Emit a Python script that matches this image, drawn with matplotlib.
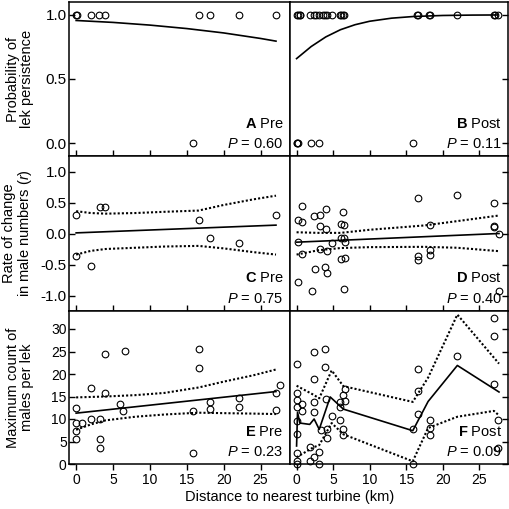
import matplotlib
matplotlib.use("Agg")
import matplotlib.pyplot as plt

plt.rcParams['font.family'] = ['Liberation Sans', 'DejaVu Sans']
plt.rcParams['axes.unicode_minus'] = False
plt.rcParams['mathtext.fontset'] = 'custom'
plt.rcParams['mathtext.rm'] = 'Liberation Sans'
plt.rcParams['mathtext.it'] = 'Liberation Sans:italic'
plt.rcParams['mathtext.bf'] = 'Liberation Sans:bold'

# ---- A: lek persistence, pre-construction
a_x = [0, 0.1, 2.0, 3.1, 3.9, 16.6, 18.2, 22.1, 27.1, 15.9]
a_y = [1, 1, 1, 1, 1, 1, 1, 1, 1, 0]
a_fit_x = [0, 5, 10, 15, 20, 25, 27.1]
a_fit_y = [0.956, 0.941, 0.920, 0.893, 0.859, 0.816, 0.795]

# ---- B: lek persistence, post-construction
b_x = [0, 0.13, 0.45, 0.5, 1.8, 2.4, 2.7, 3.1, 3.6, 3.9, 4.1, 4.8, 6.0, 6.1,
       6.4, 6.5, 16.5, 16.6, 18.1, 18.2, 22.0, 27.0, 27.1, 27.5,
       0, 0.05, 0.13, 1.95, 3.1, 15.9]
b_y = [1] * 24 + [0] * 6
b_fit_x = [0, 2, 4, 6, 8, 10, 13, 16, 20, 24, 27.5]
b_fit_y = [0.659, 0.753, 0.828, 0.884, 0.923, 0.950, 0.974, 0.987, 0.995, 0.998, 0.999]

# ---- C: rate of change, pre
c_x = [0, 3.2, 3.9, 16.6, 27.1, 18.2, 22.1, 0, 2.0]
c_y = [0.30, 0.42, 0.42, 0.22, 0.30, -0.07, -0.15, -0.37, -0.53]
c_fit_x = [0, 27.1]
c_fit_y = [0.01, 0.135]
c_ci_x = [0, 2, 4, 8, 12, 16.6, 20, 24, 27.1]
c_hi = [0.36, 0.33, 0.32, 0.33, 0.35, 0.37, 0.46, 0.55, 0.61]
c_lo = [-0.34, -0.28, -0.25, -0.23, -0.21, -0.20, -0.24, -0.30, -0.34]

# ---- D: rate of change, post
d_x = [0.7, 0.13, 0.7, 2.4, 3.2, 4.0, 3.2, 4.0, 6.4, 6.05, 6.45,
       0.13, 0.7, 3.2, 4.2, 4.9, 6.05, 6.6, 6.5, 6.05, 6.6,
       2.5, 3.95, 4.2, 0.2, 2.05, 6.45,
       16.6, 22.0, 27.05, 18.2, 27.05, 27.05, 27.7, 16.6, 16.6, 18.2, 18.2, 27.7]
d_y = [0.45, 0.21, 0.185, 0.28, 0.30, 0.39, 0.12, 0.08, 0.35, 0.146, 0.135,
       -0.135, -0.335, -0.25, -0.285, -0.15, -0.07, -0.135, -0.07, -0.405, -0.39,
       -0.58, -0.545, -0.63, -0.78, -0.92, -0.89,
       0.57, 0.62, 0.49, 0.136, 0.125, 0.10, 0.0, -0.37, -0.43, -0.27, -0.35, -0.92]
d_fit_x = [0, 27.7]
d_fit_y = [-0.14, 0.0]
d_ci_x = [0, 3, 6, 10, 17.5, 22, 27.7]
d_hi = [0.02, 0.01, 0.01, 0.06, 0.13, 0.20, 0.29]
d_lo = [-0.34, -0.27, -0.235, -0.22, -0.215, -0.23, -0.285]

# ---- E: maximum count, pre
e_x = [0, 0, 0.77, 0, 0, 2.04, 2.04, 3.2, 3.2, 3.2, 3.9, 3.9, 6.6, 6.0, 6.35,
       16.6, 16.6, 15.9, 15.9, 18.2, 18.2, 22.1, 22.1, 27.1, 27.1, 27.7]
e_y = [12.5, 9.1, 9.1, 7.3, 5.6, 16.8, 9.9, 9.9, 5.6, 3.6, 24.4, 15.7, 25.2, 13.3, 11.7,
       25.5, 21.3, 11.7, 2.5, 13.8, 12.3, 14.6, 12.7, 15.7, 11.9, 17.5]
e_fit_x = [0, 27.1]
e_fit_y = [11.3, 16.1]
e_ci_x = [0, 2, 4, 8, 12, 16.6, 20, 24, 27.1]
e_hi = [14.8, 14.9, 15.0, 15.3, 15.8, 17.0, 18.3, 19.7, 21.0]
e_lo = [7.6, 8.8, 9.7, 10.5, 11.0, 11.4, 11.3, 11.2, 11.1]

# ---- F: maximum count, post
f_x = [0.1, 0.1, 0.1, 0.1, 0.1, 0.1, 0.1, 0.1, 0.1,
       0.7, 0.7, 1.9, 1.9,
       2.4, 2.4, 2.4, 2.4, 2.4,
       3.1, 3.1, 3.3, 3.9, 3.9, 4.1, 4.1, 4.0,
       4.8, 5.9, 5.9, 6.0, 6.4, 6.6, 6.6, 6.4, 6.4,
       15.9, 15.9, 16.6, 16.6, 16.6, 18.2, 18.2, 18.2,
       22.0, 27.05, 27.05, 27.05, 27.6, 27.6]
f_y = [22.2, 15.8, 14.2, 12.7, 9.6, 6.6, 2.5, 0.6, 0.0,
       13.4, 11.8, 3.7, 0.6,
       25.0, 18.8, 13.8, 11.6, 1.5,
       2.7, 0.0, 7.5, 25.5, 21.5, 7.7, 5.7, 14.4,
       10.7, 13.7, 12.7, 9.8, 15.4, 16.7, 14.0, 7.7, 6.4,
       7.7, 0.0, 21.1, 16.2, 11.2, 9.7, 8.0, 6.5,
       23.9, 32.5, 28.5, 17.8, 9.7, 3.6]
f_fit_x = [0, 0.13, 0.45, 1.8, 2.4, 3.1, 4.6, 6.4, 15.9, 18.0, 22.0, 27.7]
f_fit_y = [4.0, 11.5, 9.1, 8.8, 10.0, 7.7, 14.9, 12.2, 7.4, 13.9, 21.9, 16.0]
f_hi_x = [0, 0.45, 2.3, 3.1, 4.8, 6.4, 15.9, 18.0, 22.0, 27.7]
f_hi = [17.4, 17.0, 15.4, 14.6, 20.8, 17.3, 13.8, 19.2, 33.2, 22.3]
f_lo_x = [0, 2.3, 3.1, 4.8, 6.4, 15.9, 18.0, 22.0, 27.0, 27.7]
f_lo = [1.5, 3.7, 4.2, 9.1, 6.6, 0.6, 8.0, 10.5, 11.8, 10.8]

labels = [(r'$\mathbf{A}$ Pre', r'$\mathit{P}$ = 0.60'),
          (r'$\mathbf{B}$ Post', r'$\mathit{P}$ = 0.11'),
          (r'$\mathbf{C}$ Pre', r'$\mathit{P}$ = 0.75'),
          (r'$\mathbf{D}$ Post', r'$\mathit{P}$ = 0.40'),
          (r'$\mathbf{E}$ Pre', r'$\mathit{P}$ = 0.23'),
          (r'$\mathbf{F}$ Post', r'$\mathit{P}$ = 0.09')]

W, H = 510, 509
fig = plt.figure(figsize=(W / 100, H / 100), dpi=100)

cols = [(69.5, 290), (290, 508.5)]
rows = [(2, 156), (156, 311), (311, 464)]
ylims = [(-0.1, 1.1), (-1.25, 1.25), (0, 34)]
yticks = [[0, 0.5, 1.0], [-1.0, -0.5, 0, 0.5, 1.0], [0, 5, 10, 15, 20, 25, 30]]
yfmt = ['{:.1f}', '{:.1f}', '{:d}']
ysize = [11, 11, 10]
ylabels = ['Probability of\nlek persistence',
           'Rate of change\nin male numbers ($\\mathit{r}$)',
           'Maximum count of\nmales per lek']

pts = [(a_x, a_y), (b_x, b_y), (c_x, c_y), (d_x, d_y), (e_x, e_y), (f_x, f_y)]
fits = [(a_fit_x, a_fit_y), (b_fit_x, b_fit_y), (c_fit_x, c_fit_y),
        (d_fit_x, d_fit_y), (e_fit_x, e_fit_y), (f_fit_x, f_fit_y)]
cis = [None, None,
       ((c_ci_x, c_hi), (c_ci_x, c_lo)),
       ((d_ci_x, d_hi), (d_ci_x, d_lo)),
       ((e_ci_x, e_hi), (e_ci_x, e_lo)),
       ((f_hi_x, f_hi), (f_lo_x, f_lo))]

for r in range(3):
    for c in range(2):
        k = r * 2 + c
        x0, x1 = cols[c]
        yt, yb = rows[r]
        ax = fig.add_axes([x0 / W, 1 - yb / H, (x1 - x0) / W, (yb - yt) / H])
        for s in ax.spines.values():
            s.set_linewidth(1.1)

        fx, fy = fits[k]
        ax.plot(fx, fy, color='black', lw=1.2, zorder=3)
        if cis[k] is not None:
            for cx, cy in cis[k]:
                ax.plot(cx, cy, color='black', lw=1.5, linestyle=(0, (1, 1)), zorder=3)
        px, py = pts[k]
        ax.plot(px, py, 'o', ms=4.8, mfc='none', mec='black', mew=0.8,
                clip_on=False, zorder=4)

        ax.set_xlim(-0.9, 29)
        ax.set_ylim(*ylims[r])
        ax.set_xticks([0, 5, 10, 15, 20, 25])
        ax.set_yticks(yticks[r])

        if r < 2:
            ax.tick_params(axis='x', direction='in', length=4, width=1,
                           labelbottom=False)
        else:
            ax.tick_params(axis='x', direction='out', length=4, width=1,
                           pad=2.5, labelsize=10)
        if c == 0:
            ax.tick_params(axis='y', direction='in', length=4, width=1,
                           pad=2, labelsize=ysize[r])
            ax.set_yticklabels([yfmt[r].format(v) for v in yticks[r]])
            ax.set_ylabel(ylabels[r], fontsize=10.5, linespacing=1.05)
            ax.yaxis.set_label_coords(-0.16, 0.5)
        else:
            ax.tick_params(axis='y', direction='in', length=4, width=1,
                           left=False, labelleft=False, right=True)

        ax.text(0.97, 0.21, labels[k][0], transform=ax.transAxes,
                ha='right', va='center', fontsize=10.5)
        ax.text(0.97, 0.08, labels[k][1], transform=ax.transAxes,
                ha='right', va='center', fontsize=10.5)

fig.text(289.5 / W, 1 - 497 / H, 'Distance to nearest turbine (km)',
         ha='center', va='center', fontsize=10.5)

fig.savefig('out.png', dpi=100)
